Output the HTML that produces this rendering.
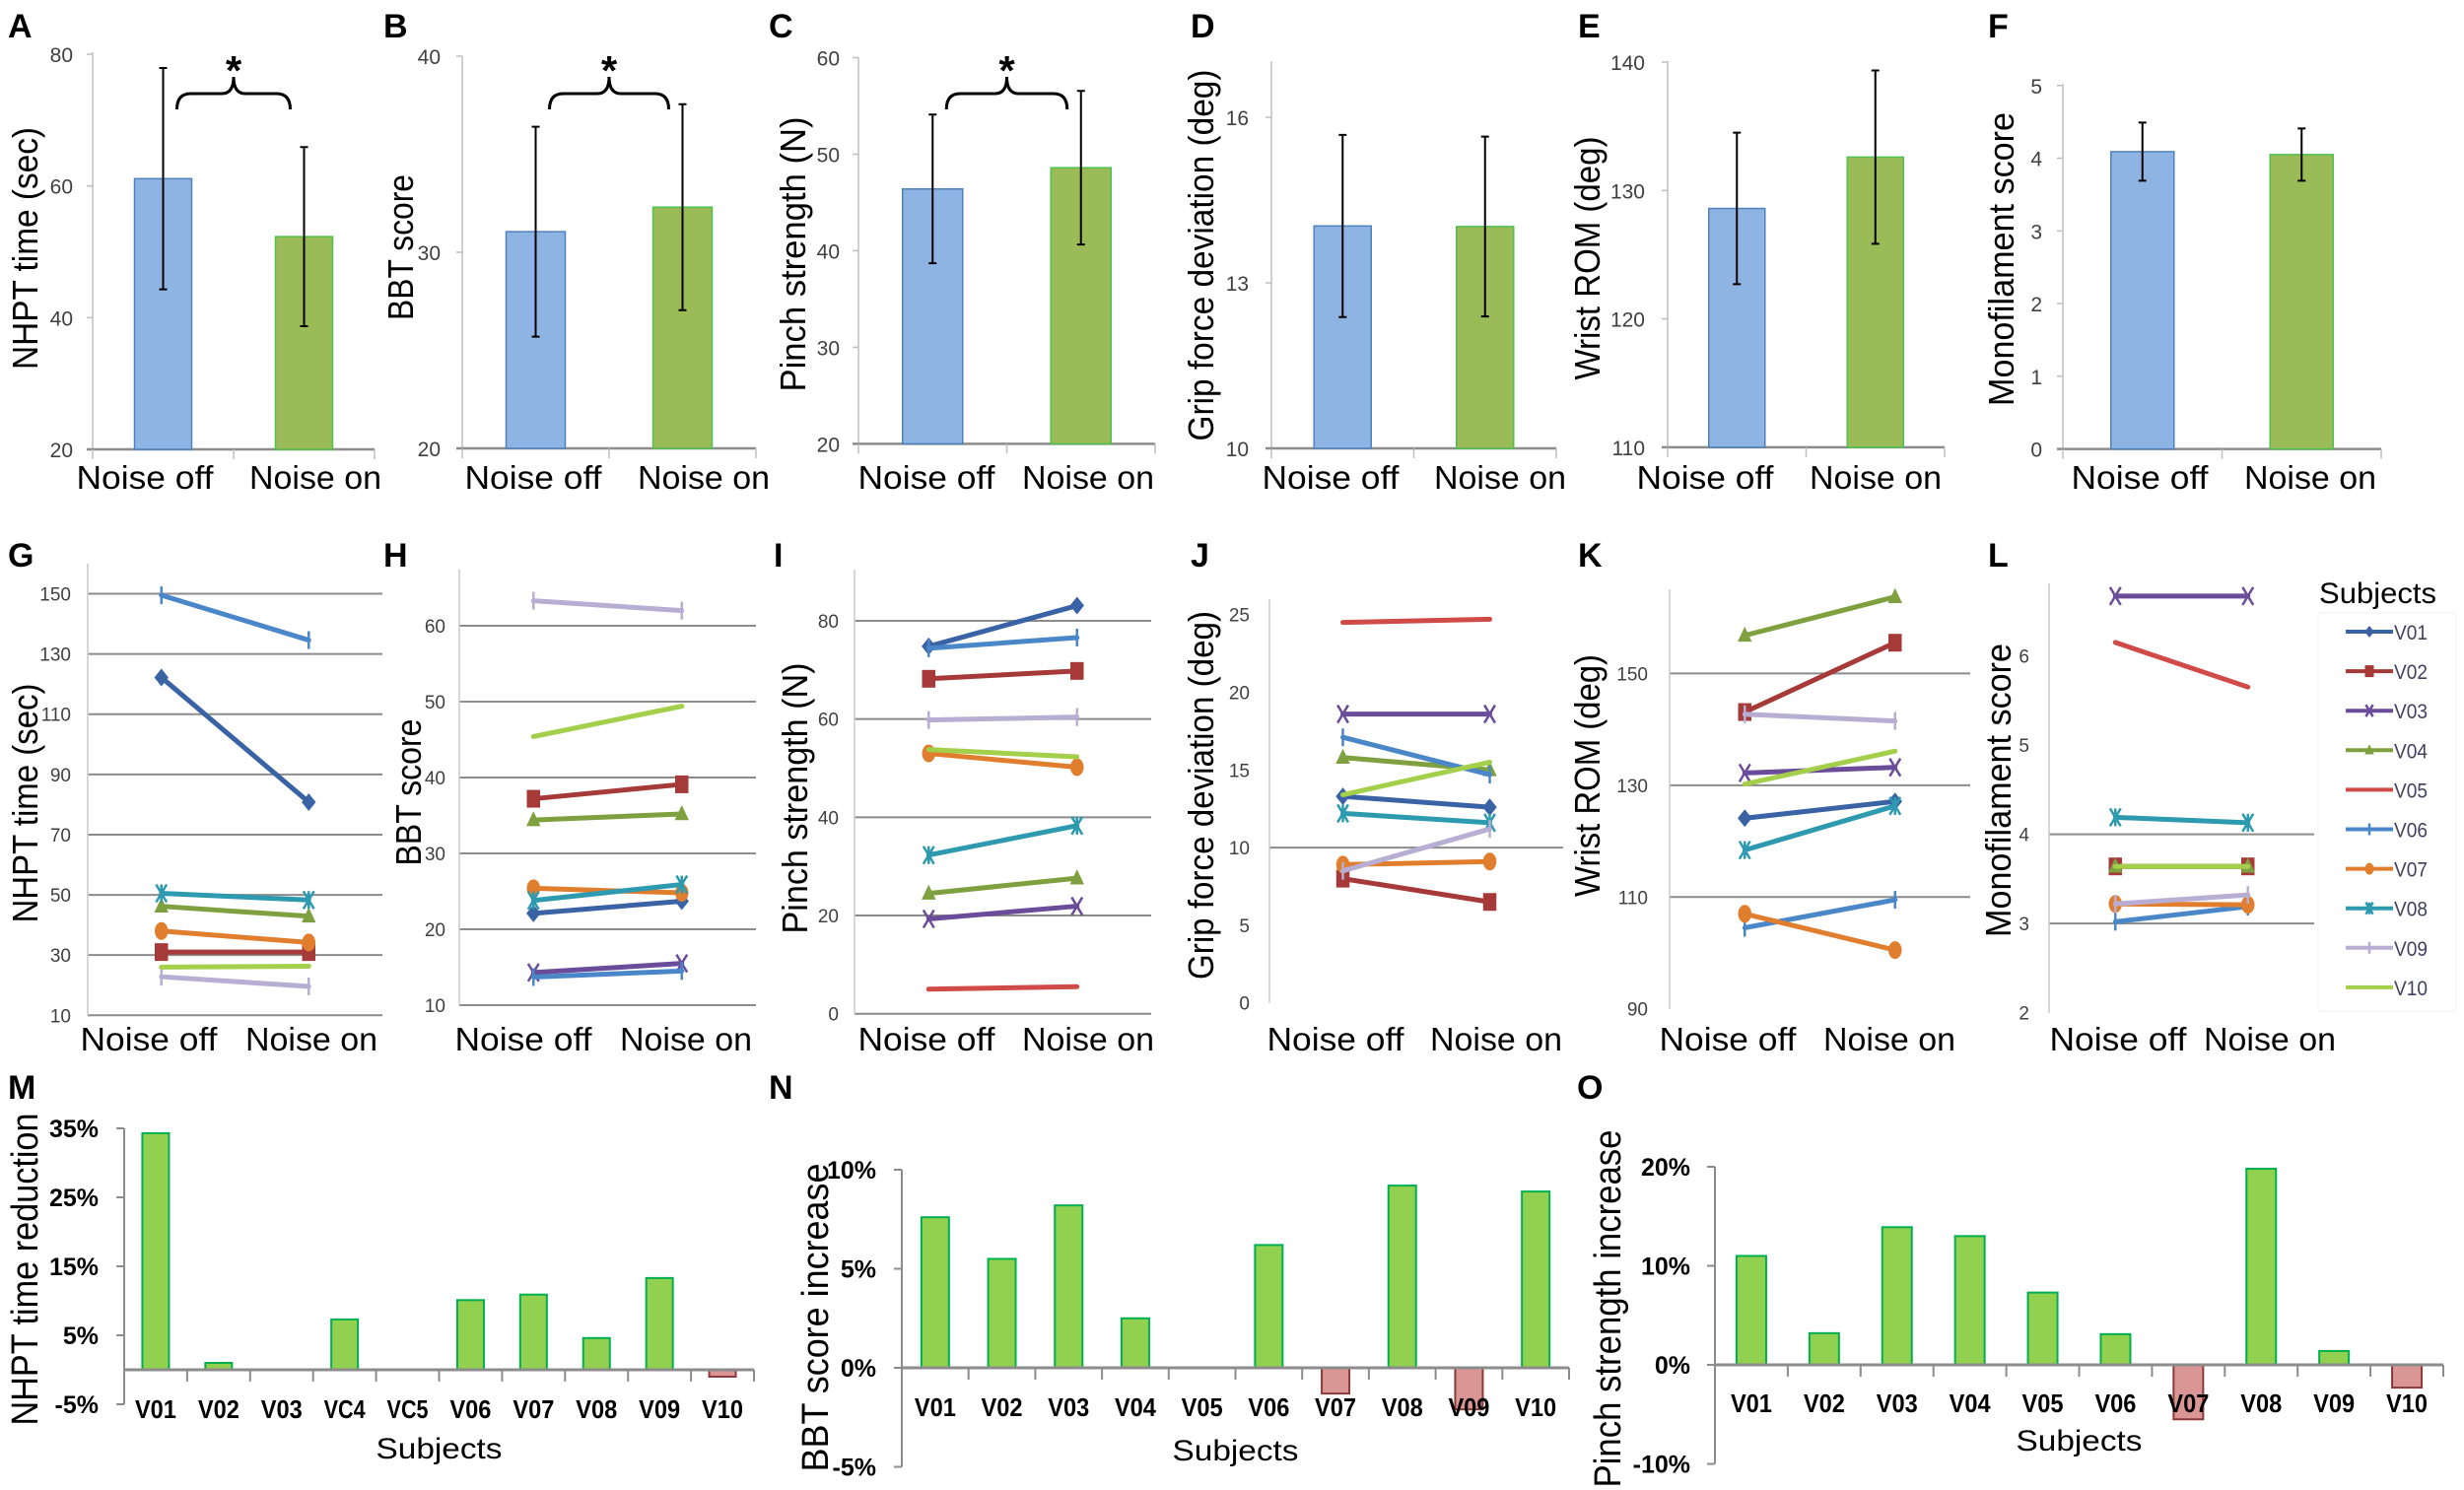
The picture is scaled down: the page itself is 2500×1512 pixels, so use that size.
<!DOCTYPE html>
<html><head><meta charset="utf-8"><title>Noise study figure</title>
<style>
html,body{margin:0;padding:0;background:#fff;}
svg{display:block;}
text{font-family:"Liberation Sans",sans-serif;}
.nar{font-family:"Liberation Sans Narrow","Liberation Sans",sans-serif;}
</style></head>
<body>
<svg id="fig" xmlns="http://www.w3.org/2000/svg" width="2500" height="1512" viewBox="0 0 2500 1512">
<rect x="0" y="0" width="2500" height="1512" fill="#ffffff"/>
</svg>
<script>
// ---------- DATA ----------
const groups = ["Noise off", "Noise on"];
const subjects = ["V01","V02","V03","V04","V05","V06","V07","V08","V09","V10"];
const subjectsM = ["V01","V02","V03","VC4","VC5","V06","V07","V08","V09","V10"];

// Row 1: group means and error (SD)
const nhptMean = [61.1, 52.3];
const nhptErr = [16.8, 13.6];
const bbtMean = [31.05, 32.3];
const bbtErr = [5.35, 5.25];
const pinchMean = [46.4, 48.6];
const pinchErr = [7.7, 7.95];
const gripMean = [14.03, 14.02];
const gripErr = [1.65, 1.63];
const wristMean = [128.6, 132.6];
const wristErr = [5.9, 6.75];
const monoMean = [4.09, 4.05];
const monoErr = [0.4, 0.36];

// Row 1 axis ticks
const ticksA = [20, 40, 60, 80];
const ticksB = [20, 30, 40];
const ticksC = [20, 30, 40, 50, 60];
const ticksD = [10, 13, 16];
const ticksE = [110, 120, 130, 140];
const ticksF = [0, 1, 2, 3, 4, 5];

// Row 2: per-subject values (null = not visible)
const nhptOff = [122.2, 31, null, 46.2, null, 149.5, 38, 50.5, 22.8, 26];
const nhptOn  = [80.8, 31, null, 42.9, null, 134.6, 34.2, 48.3, 19.6, 26.3];
const bbtOff  = [22.1, 37.2, 14.3, 34.4, null, 13.7, 25.4, 23.8, 63.3, 45.4];
const bbtOn   = [23.7, 39.1, 15.5, 35.2, null, 14.5, 24.8, 25.9, 62, 49.4];
const pinchOff = [74.8, 68.2, 19.3, 24.5, 5, 74.4, 53, 32.3, 59.8, 53.8];
const pinchOn  = [83.1, 69.8, 21.9, 27.6, 5.5, 76.6, 50.2, 38.3, 60.4, 52.3];
const gripOff = [13.3, 8, 18.6, 15.8, 24.5, 17.1, 8.9, 12.2, 8.5, 13.4];
const gripOn  = [12.6, 6.5, 18.6, 15, 24.7, 14.7, 9.1, 11.6, 11.2, 15.5];
const wristOff = [124.1, 143.1, 132.2, 156.8, null, 104.5, 107, 118.4, 142.7, 130.2];
const wristOn  = [127.1, 155.5, 133.2, 163.7, null, 109.5, 100.5, 126.3, 141.5, 136.1];
const monoOff = [null, 3.64, 6.67, 3.64, 6.15, 3.02, 3.22, 4.19, 3.22, 3.64];
const monoOn  = [null, 3.64, 6.67, 3.64, 5.65, 3.19, 3.21, 4.13, 3.32, 3.64];

const ticksG = [10, 30, 50, 70, 90, 110, 130, 150];
const gridG = [30, 50, 70, 90, 110, 130, 150];
const ticksH = [10, 20, 30, 40, 50, 60];
const gridH = [20, 30, 40, 50, 60];
const ticksI = [0, 20, 40, 60, 80];
const gridI = [20, 40, 60, 80];
const ticksJ = [0, 5, 10, 15, 20, 25];
const gridJ = [10];
const ticksK = [90, 110, 130, 150];
const gridK = [110, 130, 150];
const ticksL = [2, 3, 4, 5, 6];
const gridL = [3, 4];

// Row 3: percentage changes
const nhptReduction = [34.3, 1, 0, 7.3, 0, 10.1, 10.9, 4.6, 13.3, -1];
const bbtIncrease = [7.6, 5.5, 8.2, 2.5, 0, 6.2, -1.3, 9.2, -2.1, 8.9];
const pinchIncrease = [11, 3.2, 13.9, 13, 7.3, 3.1, -5.5, 19.8, 1.4, -2.3];
const ticksM = [-5, 5, 15, 25, 35];
const ticksN = [-5, 0, 5, 10];
const ticksO = [-10, 0, 10, 20];

// ---------- STYLE ----------
const seriesColors = ["#3A63A5","#A63A38","#6B4C9A","#7FA03F","#D04A48","#4A87C8","#E07E2E","#2E9AB0","#B8AED3","#A4CF4A"];
const seriesMarkers = ["diamond","square","x","triangle","none","plus","circle","asterisk","plus","none"];

const NS = "http://www.w3.org/2000/svg";
const svg = document.getElementById("fig");
function mk(tag, attrs, parent) {
  const e = document.createElementNS(NS, tag);
  for (const k in attrs) e.setAttribute(k, attrs[k]);
  (parent || svg).appendChild(e);
  return e;
}
function txt(str, attrs, parent) {
  const e = mk("text", attrs, parent);
  e.textContent = str;
  return e;
}
function lin(v0, p0, v1, p1) { return v => p0 + (v - v0) * (p1 - p0) / (v1 - v0); }

function panelLetter(ch, x, y, parent) {
  const t = txt(ch, {x: x, y: y, "font-size": 34, "font-weight": "bold", fill: "#000"}, parent);
  
  
}
function yTitle(str, bx, cy, len, fs, parent) {
  const t = txt(str, {x: bx, y: cy, "font-size": fs, "text-anchor": "middle", fill: "#000",
    textLength: len, lengthAdjust: "spacingAndGlyphs", transform: "rotate(-90," + bx + "," + cy + ")"}, parent);
  
  
}

// ---------- ROW 1: bar charts ----------
function barPanel(cfg, means, errs, ticks) {
  const g = mk("g", {});
  
  
  const y = lin(cfg.v0, cfg.p0, cfg.v1, cfg.p1);
  const yAx = mk("line", {x1: cfg.x0, x2: cfg.x0, y1: cfg.top, y2: y(cfg.v0), stroke: "#BFBFBF", "stroke-width": 1.5}, g);
  
  
  ticks.forEach(t => {
    const tk = mk("line", {x1: cfg.x0 - 6, x2: cfg.x0, y1: y(t), y2: y(t), stroke: "#BFBFBF", "stroke-width": 1.5}, g);
    
    
    const lb = txt(String(t), {x: cfg.lx, y: y(t) + 8, "font-size": 21, "text-anchor": "end", fill: "#404040", class: "nar"}, g);
    
    
  });
  const xAx = mk("line", {x1: cfg.x0 - 6, x2: cfg.x1, y1: y(cfg.v0), y2: y(cfg.v0), stroke: "#8C8C8C", "stroke-width": 2.5}, g);
  
  
  const cw = (cfg.x1 - cfg.x0) / groups.length;
  for (let i = 0; i <= groups.length; i++) {
    const tk = mk("line", {x1: cfg.x0 + i * cw, x2: cfg.x0 + i * cw, y1: y(cfg.v0), y2: y(cfg.v0) + 10, stroke: "#BFBFBF", "stroke-width": 1.5}, g);
    
    
  }
  const fills = ["#8EB4E3", "#9BBB59"];
  const strokes = ["#4F81BD", "#4EC04E"];
  const centers = [];
  groups.forEach((gr, i) => {
    const cx = cfg.x0 + (i + 0.5) * cw;
    centers.push(cx);
    const top = y(means[i]);
    const b = mk("rect", {x: cx - cfg.bw / 2, y: top, width: cfg.bw, height: y(cfg.v0) - top, fill: fills[i], stroke: strokes[i], "stroke-width": 1.5}, g);
    
    
    const hi = y(means[i] + errs[i]), lo = y(means[i] - errs[i]);
    const eb = mk("path", {d: "M" + cx + "," + hi + "V" + lo + "M" + (cx - 4) + "," + hi + "H" + (cx + 4) + "M" + (cx - 4) + "," + lo + "H" + (cx + 4), stroke: "#000", "stroke-width": 2, fill: "none"}, g);
    
    
    const lb = txt(gr, {x: cfg.lc[i], y: 496, "font-size": 33, "text-anchor": "middle", fill: "#000", class: "nar", textLength: i === 0 ? 139 : 134, lengthAdjust: "spacingAndGlyphs"}, g);
    
    
  });
  if (cfg.sig) {
    const a = centers[0] + 14, b2 = centers[1] - 14, m = (a + b2) / 2, t = 95, e = 111, p = 78;
    const br = mk("path", {d: "M" + a + "," + e + "Q" + a + "," + t + " " + (a + 14) + "," + t + "L" + (m - 12) + "," + t +
      "Q" + m + "," + t + " " + m + "," + p + "Q" + m + "," + t + " " + (m + 12) + "," + t + "L" + (b2 - 14) + "," + t +
      "Q" + b2 + "," + t + " " + b2 + "," + e, stroke: "#000", "stroke-width": 3, fill: "none"}, g);
    
    
    const st = txt("*", {x: m, y: 86, "font-size": 42, "font-weight": "bold", "text-anchor": "middle", fill: "#000"}, g);
    
    
  }
  yTitle(cfg.title, cfg.tx, cfg.ty, cfg.tl, 36, g);
  panelLetter(cfg.letter, cfg.lpx, 38, g);
}

barPanel({name: "panel-a-nhpt", letter: "A", x0: 94, x1: 380, v0: 20, p0: 456, v1: 80, p1: 55, top: 53, lx: 74, bw: 58, sig: true, title: "NHPT time (sec)", tx: 38, ty: 252, tl: 246, lpx: 8, lc: [147, 320]}, nhptMean, nhptErr, ticksA);
barPanel({name: "panel-b-bbt", letter: "B", x0: 469, x1: 767, v0: 20, p0: 455, v1: 40, p1: 57, top: 57, lx: 447, bw: 60, sig: true, title: "BBT score", tx: 419, ty: 251, tl: 148, lpx: 389, lc: [541, 714]}, bbtMean, bbtErr, ticksB);
barPanel({name: "panel-c-pinch", letter: "C", x0: 871, x1: 1172, v0: 20, p0: 450.4, v1: 60, p1: 58.5, top: 58, lx: 852, bw: 61, sig: true, title: "Pinch strength (N)", tx: 817, ty: 258, tl: 279, lpx: 780, lc: [940, 1104]}, pinchMean, pinchErr, ticksC);
barPanel({name: "panel-d-grip", letter: "D", x0: 1290, x1: 1579, v0: 10, p0: 455, v1: 16, p1: 119, top: 62, lx: 1267, bw: 58, sig: false, title: "Grip force deviation (deg)", tx: 1231, ty: 259, tl: 377, lpx: 1208, lc: [1350, 1522]}, gripMean, gripErr, ticksD);
barPanel({name: "panel-e-wrist", letter: "E", x0: 1692, x1: 1973, v0: 110, p0: 453.9, v1: 140, p1: 63, top: 62, lx: 1669, bw: 57, sig: false, title: "Wrist ROM (deg)", tx: 1623, ty: 262, tl: 247, lpx: 1601, lc: [1730, 1903]}, wristMean, wristErr, ticksE);
barPanel({name: "panel-f-monofilament", letter: "F", x0: 2093, x1: 2416, v0: 0, p0: 455.6, v1: 5, p1: 86.8, top: 85, lx: 2072, bw: 64, sig: false, title: "Monofilament score", tx: 2043, ty: 263, tl: 298, lpx: 2017, lc: [2171, 2344]}, monoMean, monoErr, ticksF);

// ---------- markers ----------
function marker(type, x, y, color, s, parent) {
  let e = null;
  if (type === "diamond") e = mk("polygon", {points: [x, y - s, x + s * 0.8, y, x, y + s, x - s * 0.8, y].join(","), fill: color}, parent);
  else if (type === "square") e = mk("rect", {x: x - s * 0.75, y: y - s, width: s * 1.5, height: s * 2, fill: color}, parent);
  else if (type === "triangle") e = mk("polygon", {points: [x, y - s, x + s * 0.8, y + s * 0.7, x - s * 0.8, y + s * 0.7].join(","), fill: color}, parent);
  else if (type === "circle") e = mk("ellipse", {cx: x, cy: y, rx: s * 0.75, ry: s, fill: color}, parent);
  else if (type === "x") e = mk("path", {d: "M" + (x - s * 0.6) + "," + (y - s) + "L" + (x + s * 0.6) + "," + (y + s) + "M" + (x + s * 0.6) + "," + (y - s) + "L" + (x - s * 0.6) + "," + (y + s), stroke: color, "stroke-width": 2.5, fill: "none"}, parent);
  else if (type === "plus") e = mk("path", {d: "M" + x + "," + (y - s) + "V" + (y + s), stroke: color, "stroke-width": 2.5, fill: "none"}, parent);
  else if (type === "asterisk") e = mk("path", {d: "M" + (x - s * 0.6) + "," + (y - s) + "L" + (x + s * 0.6) + "," + (y + s) + "M" + (x + s * 0.6) + "," + (y - s) + "L" + (x - s * 0.6) + "," + (y + s) + "M" + x + "," + (y - s) + "V" + (y + s), stroke: color, "stroke-width": 2.5, fill: "none"}, parent);
  return e;
}

// ---------- ROW 2: paired line charts ----------
function linePanel(cfg, off, on, ticks, grid) {
  const g = mk("g", {});
  
  
  const y = lin(cfg.v0, cfg.p0, cfg.v1, cfg.p1);
  grid.forEach(v => {
    const gl = mk("line", {x1: cfg.x0, x2: cfg.x1, y1: y(v), y2: y(v), stroke: "#8C8C8C", "stroke-width": 2}, g);
    
    
  });
  if (cfg.baseLine) {
    const bl = mk("line", {x1: cfg.x0, x2: cfg.x1, y1: y(cfg.v0), y2: y(cfg.v0), stroke: "#8C8C8C", "stroke-width": 2}, g);
    
    
  }
  const yAx = mk("line", {x1: cfg.x0, x2: cfg.x0, y1: cfg.top, y2: y(cfg.v0), stroke: "#C8C8C8", "stroke-width": 1.5}, g);
  
  
  ticks.forEach(t => {
    const lb = txt(String(t), {x: cfg.lx, y: y(t) + 7, "font-size": 19, "text-anchor": "end", fill: "#404040", class: "nar"}, g);
    
    
  });
  const cw = (cfg.x1 - cfg.x0) / 2;
  const cx0 = cfg.x0 + cw * 0.5, cx1 = cfg.x0 + cw * 1.5;
  subjects.forEach((s, i) => {
    if (off[i] === null || on[i] === null) return;
    const sg = mk("g", {}, g);
    
    
    const ln = mk("line", {x1: cx0, y1: y(off[i]), x2: cx1, y2: y(on[i]), stroke: seriesColors[i], "stroke-width": 5, "stroke-linecap": "round"}, sg);
    
    
    [[cx0, off[i]], [cx1, on[i]]].forEach(pt => {
      const m = marker(seriesMarkers[i], pt[0], y(pt[1]), seriesColors[i], 9, sg);
      if (m) {
        
        
      }
    });
  });
  groups.forEach((gr, i) => {
    const lb = txt(gr, {x: cfg.lc[i], y: 1066, "font-size": 33, "text-anchor": "middle", fill: "#000", class: "nar", textLength: i === 0 ? 139 : 134, lengthAdjust: "spacingAndGlyphs"}, g);
    
    
  });
  yTitle(cfg.title, cfg.tx, cfg.ty, cfg.tl, 36, g);
  panelLetter(cfg.letter, cfg.lpx, 575, g);
}

linePanel({name: "panel-g-nhpt-subjects", letter: "G", x0: 89, x1: 388, v0: 10, p0: 1030.3, v1: 150, p1: 602.5, top: 572, lx: 72, baseLine: true, title: "NHPT time (sec)", tx: 38, ty: 815, tl: 243, lpx: 8, lc: [151, 316]}, nhptOff, nhptOn, ticksG, gridG);
linePanel({name: "panel-h-bbt-subjects", letter: "H", x0: 466, x1: 767, v0: 10, p0: 1020, v1: 60, p1: 635, top: 578, lx: 452, baseLine: true, title: "BBT score", tx: 427, ty: 804, tl: 149, lpx: 389, lc: [531, 696]}, bbtOff, bbtOn, ticksH, gridH);
linePanel({name: "panel-i-pinch-subjects", letter: "I", x0: 867, x1: 1168, v0: 0, p0: 1028.7, v1: 80, p1: 630, top: 578, lx: 851, baseLine: true, title: "Pinch strength (N)", tx: 819, ty: 810, tl: 275, lpx: 785, lc: [940, 1104]}, pinchOff, pinchOn, ticksI, gridI);
linePanel({name: "panel-j-grip-subjects", letter: "J", x0: 1288, x1: 1586, v0: 0, p0: 1017.7, v1: 25, p1: 623.7, top: 608, lx: 1268, baseLine: false, title: "Grip force deviation (deg)", tx: 1231, ty: 807, tl: 374, lpx: 1208, lc: [1355, 1518]}, gripOff, gripOn, ticksJ, gridJ);
linePanel({name: "panel-k-wrist-subjects", letter: "K", x0: 1694, x1: 1999, v0: 90, p0: 1023.7, v1: 150, p1: 683.4, top: 598, lx: 1672, baseLine: false, title: "Wrist ROM (deg)", tx: 1623, ty: 787, tl: 246, lpx: 1601, lc: [1753, 1917]}, wristOff, wristOn, ticksK, gridK);
linePanel({name: "panel-l-monofilament-subjects", letter: "L", x0: 2079, x1: 2348, v0: 2, p0: 1027.7, v1: 6, p1: 665.5, top: 592, lx: 2059, baseLine: false, title: "Monofilament score", tx: 2040, ty: 802, tl: 298, lpx: 2017, lc: [2149, 2303]}, monoOff, monoOn, ticksL, gridL);

// ---------- legend ----------
const lg = mk("g", {});


const lgBox = mk("rect", {x: 2352, y: 622, width: 140, height: 404, fill: "none", stroke: "#F2F2F2", "stroke-width": 1}, lg);


const lgTitle = txt("Subjects", {x: 2353, y: 612, "font-size": 30, fill: "#000", class: "nar", textLength: 119, lengthAdjust: "spacingAndGlyphs"}, lg);


subjects.forEach((s, i) => {
  const ly = 641 + i * 40.1;
  const eg = mk("g", {}, lg);
  
  
  const ll = mk("line", {x1: 2380, x2: 2428, y1: ly, y2: ly, stroke: seriesColors[i], "stroke-width": 4}, eg);
  
  
  const lm = marker(seriesMarkers[i], 2404, ly, seriesColors[i], 6, eg);
  if (lm) {
    
    
  }
  const lt = txt(s, {x: 2429, y: ly + 8, "font-size": 21, fill: "#404060", class: "nar", textLength: 34, lengthAdjust: "spacingAndGlyphs"}, eg);
  
  
});

// ---------- ROW 3: percentage bar charts ----------
function pctPanel(cfg, vals, labels, ticks) {
  const g = mk("g", {});
  
  
  const y = lin(0, cfg.p0, cfg.v1, cfg.p1);
  const yAx = mk("line", {x1: cfg.x0, x2: cfg.x0, y1: y(ticks[ticks.length - 1]), y2: y(ticks[0]), stroke: "#8C8C8C", "stroke-width": 2}, g);
  
  
  ticks.forEach(t => {
    const tk = mk("line", {x1: cfg.x0 - 8, x2: cfg.x0, y1: y(t), y2: y(t), stroke: "#8C8C8C", "stroke-width": 2}, g);
    
    
    const lb = txt(t + "%", {x: cfg.lx, y: y(t) + 9, "font-size": 25, "font-weight": "bold", "text-anchor": "end", fill: "#000", class: "nar"}, g);
    
    
  });
  const cw = (cfg.x1 - cfg.x0) / labels.length;
  labels.forEach((lab, i) => {
    const cx = cfg.x0 + (i + 0.5) * cw;
    const v = vals[i];
    if (v !== 0) {
      const top = Math.min(y(v), y(0)), h = Math.abs(y(v) - y(0));
      const b = mk("rect", {x: cx - cfg.bw / 2, y: top, width: cfg.bw, height: h,
        fill: v > 0 ? "#92D050" : "#D99694", stroke: v > 0 ? "#00B050" : "#8B3A3A", "stroke-width": 2}, g);
      
      
    }
    const lb = txt(lab, {x: cx, y: cfg.cy, "font-size": 26, "font-weight": "bold", "text-anchor": "middle", fill: "#000", class: "nar", textLength: 42, lengthAdjust: "spacingAndGlyphs"}, g);
    
    
  });
  const xAx = mk("line", {x1: cfg.x0, x2: cfg.x1, y1: y(0), y2: y(0), stroke: "#8C8C8C", "stroke-width": 3}, g);
  
  
  for (let i = 1; i <= labels.length; i++) {
    const tk = mk("line", {x1: cfg.x0 + i * cw, x2: cfg.x0 + i * cw, y1: y(0), y2: y(0) + 12, stroke: "#8C8C8C", "stroke-width": 2}, g);
    
    
  }
  const sub = txt("Subjects", {x: (cfg.x0 + cfg.x1) / 2, y: cfg.sy, "font-size": 30, "text-anchor": "middle", fill: "#000", class: "nar", textLength: 128, lengthAdjust: "spacingAndGlyphs"}, g);
  
  
  yTitle(cfg.title, cfg.tx, cfg.ty, cfg.tl, 38, g);
  panelLetter(cfg.letter, cfg.lpx, 1115, g);
}

pctPanel({name: "panel-m-nhpt-reduction", letter: "M", x0: 126, x1: 765, p0: 1390, v1: 35, p1: 1145, lx: 100, bw: 27, cy: 1439, sy: 1480, title: "NHPT time reduction", tx: 38, ty: 1288, tl: 317, lpx: 8}, nhptReduction, subjectsM, ticksM);
pctPanel({name: "panel-n-bbt-increase", letter: "N", x0: 915, x1: 1592, p0: 1388, v1: 10, p1: 1187, lx: 889, bw: 28, cy: 1437, sy: 1482, title: "BBT score increase", tx: 840, ty: 1337, tl: 313, lpx: 780}, bbtIncrease, subjects, ticksN);
pctPanel({name: "panel-o-pinch-increase", letter: "O", x0: 1740, x1: 2479, p0: 1385, v1: 20, p1: 1184, lx: 1715, bw: 30, cy: 1433, sy: 1472, title: "Pinch strength increase", tx: 1644, ty: 1328, tl: 363, lpx: 1600}, pinchIncrease, subjects, ticksO);
</script>
</body></html>
